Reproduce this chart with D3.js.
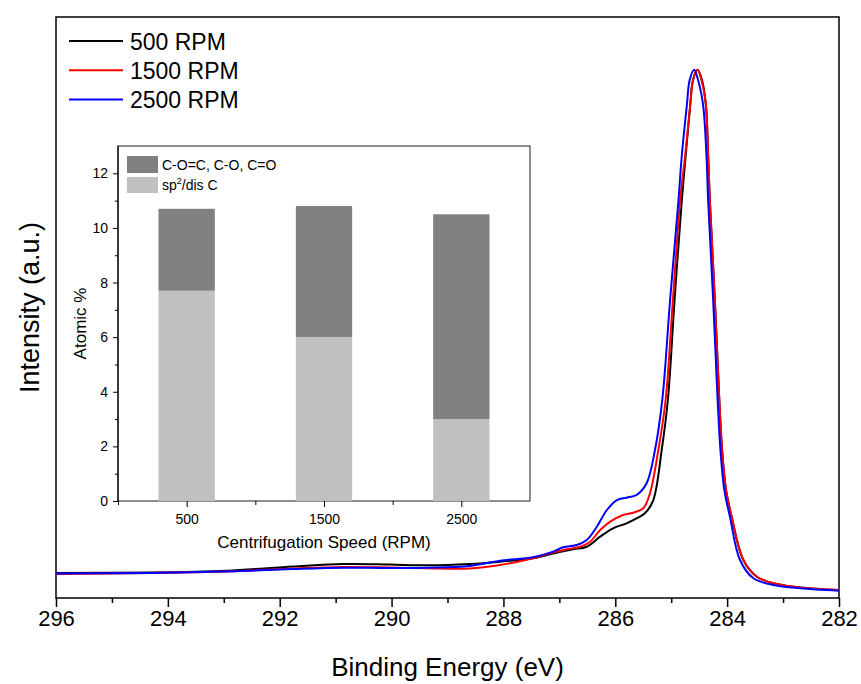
<!DOCTYPE html>
<html>
<head>
<meta charset="utf-8">
<script src="https://cdn.jsdelivr.net/npm/d3@7"></script>
<style>
body { margin: 0; background: #fff; }
text { font-family: Arial, "Liberation Sans", sans-serif; fill: #000; }
</style>
</head>
<body>
<svg width="861" height="684"></svg>
<script>
// C 1s spectra, binding energy (eV) and intensity (a.u., peak = 100)
var energy500 = [296.00, 294.32, 292.95, 291.76, 290.86, 290.03, 289.37, 288.60, 288.06, 287.47, 287.05, 286.75, 286.51, 286.27, 286.04, 285.80, 285.62, 285.47, 285.32, 285.17, 285.06, 284.94, 284.81, 284.74, 284.66, 284.61, 284.53, 284.45, 284.38, 284.34, 284.31, 284.22, 284.14, 284.09, 284.02, 283.92, 283.71, 283.47, 283.11, 282.70, 282.00];
var int500    = [4.73, 4.83, 5.17, 5.96, 6.44, 6.34, 6.19, 6.44, 6.87, 7.52, 8.58, 9.22, 9.71, 11.61, 13.20, 14.14, 15.09, 16.04, 18.55, 28.02, 37.49, 56.42, 75.35, 83.87, 93.34, 98.07, 100, 98.07, 93.34, 83.87, 75.35, 56.42, 37.49, 28.02, 20.45, 15.39, 7.19, 4.03, 2.65, 1.99, 1.51];

var energy1500 = [296.00, 294.32, 292.95, 291.76, 290.86, 290.03, 289.37, 288.60, 288.06, 287.47, 287.17, 286.87, 286.63, 286.45, 286.27, 286.09, 285.86, 285.68, 285.50, 285.38, 285.23, 285.10, 284.97, 284.84, 284.75, 284.66, 284.61, 284.53, 284.46, 284.38, 284.34, 284.31, 284.22, 284.14, 284.09, 284.02, 283.92, 283.71, 283.47, 283.11, 282.70, 282.00];
var int1500    = [4.54, 4.73, 5.02, 5.59, 5.87, 5.77, 5.62, 5.59, 6.25, 7.52, 8.46, 9.22, 9.71, 10.66, 12.87, 14.45, 15.71, 16.15, 16.98, 19.82, 28.02, 37.49, 56.42, 75.35, 83.87, 93.34, 98.07, 100, 98.07, 93.34, 83.87, 75.35, 56.42, 37.49, 28.02, 20.45, 15.39, 7.19, 4.03, 2.65, 1.99, 1.51];

var energy2500 = [296.00, 294.32, 292.95, 291.76, 290.86, 290.03, 289.37, 288.60, 288.06, 287.47, 287.11, 286.93, 286.69, 286.51, 286.33, 286.15, 285.97, 285.80, 285.62, 285.44, 285.29, 285.16, 285.02, 284.87, 284.81, 284.72, 284.67, 284.59, 284.52, 284.43, 284.37, 284.34, 284.25, 284.17, 284.12, 284.05, 283.95, 283.77, 283.53, 283.17, 282.70, 282.00];
var int2500    = [4.64, 4.73, 5.02, 5.49, 5.74, 5.68, 5.74, 6.06, 7.06, 7.71, 8.77, 9.60, 10.03, 10.98, 13.50, 16.66, 18.55, 18.99, 19.50, 21.72, 28.02, 37.49, 56.42, 75.35, 83.87, 93.34, 98.07, 100, 98.07, 93.34, 83.87, 75.35, 56.42, 37.49, 28.02, 20.45, 15.39, 7.19, 3.73, 2.46, 1.84, 1.38];

var seriesNames = ["500 RPM", "1500 RPM", "2500 RPM"];
var seriesColors = ["#000000", "#ff0000", "#0000ff"];

// inset: atomic % by centrifugation speed
var speeds = [500, 1500, 2500];
var spDis = [7.7, 6.0, 3.0];
var oxygenated = [3.0, 4.8, 7.5];
var insetKeys = ["sp2", "ox"];
var insetColors = { sp2: "#c0c0c0", ox: "#808080" };

var svg = d3.select("svg");

var margin = { left: 56, right: 839, top: 17, bottom: 598 };

var x = d3.scaleLinear().domain([296, 282]).range([margin.left, margin.right]);
var y = d3.scaleLinear().domain([0, 110]).range([margin.bottom, margin.top]);

// frame
svg.append("rect")
    .attr("x", margin.left).attr("y", margin.top)
    .attr("width", margin.right - margin.left)
    .attr("height", margin.bottom - margin.top)
    .attr("fill", "none").attr("stroke", "#000").attr("stroke-width", 1.5);

// x axis, major + minor ticks
var xMinor = d3.axisBottom(x).tickValues(d3.range(295, 282, -2)).tickSize(5).tickFormat("");
var xMajor = d3.axisBottom(x).tickValues(d3.range(296, 281, -2)).tickSize(9).tickPadding(3).tickFormat(d3.format("d"));

svg.append("g").attr("transform", "translate(0," + margin.bottom + ")").call(xMinor)
    .call(function(g) { g.select(".domain").remove(); })
    .selectAll("line").attr("stroke", "#000").attr("stroke-width", 1.5);
var gx = svg.append("g").attr("transform", "translate(0," + margin.bottom + ")").call(xMajor);
gx.select(".domain").remove();
gx.selectAll("line").attr("stroke", "#000").attr("stroke-width", 1.5);
gx.selectAll("text").attr("font-size", 22).attr("font-family", "Arial, 'Liberation Sans', sans-serif");

svg.append("text")
    .attr("x", (margin.left + margin.right) / 2).attr("y", 676)
    .attr("text-anchor", "middle").attr("font-size", 26)
    .text("Binding Energy (eV)");

svg.append("text")
    .attr("transform", "translate(39," + ((margin.top + margin.bottom) / 2) + ") rotate(-90)")
    .attr("text-anchor", "middle").attr("font-size", 27)
    .text("Intensity (a.u.)");

// spectra
var line = d3.line()
    .x(function(d) { return x(d[0]); })
    .y(function(d) { return y(d[1]); })
    .curve(d3.curveCatmullRom.alpha(0.5));

var spectra = [d3.zip(energy500, int500), d3.zip(energy1500, int1500), d3.zip(energy2500, int2500)];

svg.append("g").selectAll("path")
    .data(spectra)
    .enter().append("path")
    .attr("d", line)
    .attr("fill", "none")
    .attr("stroke", function(d, i) { return seriesColors[i]; })
    .attr("stroke-width", 2);

// main legend
var leg = svg.append("g").selectAll("g")
    .data(seriesNames)
    .enter().append("g")
    .attr("transform", function(d, i) { return "translate(69," + (41 + i * 29.3) + ")"; });
leg.append("line")
    .attr("x1", 0).attr("x2", 54).attr("y1", 0).attr("y2", 0)
    .attr("stroke", function(d, i) { return seriesColors[i]; })
    .attr("stroke-width", 2);
leg.append("text")
    .attr("x", 61).attr("y", 8.5)
    .attr("font-size", 23)
    .text(function(d) { return d; });

// ---- inset bar chart ----
var inset = { left: 118, right: 530, top: 146, bottom: 501 };

var ix = d3.scaleLinear().domain([0, 3000]).range([inset.left, inset.right]);
var iy = d3.scaleLinear().domain([0, 13]).range([inset.bottom, inset.top]);

svg.append("rect")
    .attr("x", inset.left).attr("y", inset.top)
    .attr("width", inset.right - inset.left)
    .attr("height", inset.bottom - inset.top)
    .attr("fill", "#fff").attr("stroke", "#444").attr("stroke-width", 1.2);

var rows = speeds.map(function(s, i) { return { speed: s, sp2: spDis[i], ox: oxygenated[i] }; });
var stacked = d3.stack().keys(insetKeys)(rows);
var barW = ix(410) - ix(0);

svg.append("g").selectAll("g")
    .data(stacked)
    .enter().append("g")
    .attr("fill", function(d) { return insetColors[d.key]; })
    .selectAll("rect")
    .data(function(d) { return d; })
    .enter().append("rect")
    .attr("x", function(d) { return ix(d.data.speed) - barW / 2; })
    .attr("width", barW)
    .attr("y", function(d) { return iy(d[1]); })
    .attr("height", function(d) { return iy(d[0]) - iy(d[1]); });

// inset axes
var iyMinor = d3.axisLeft(iy).tickValues(d3.range(1, 13, 2)).tickSize(3).tickFormat("");
var iyMajor = d3.axisLeft(iy).tickValues(d3.range(0, 13, 2)).tickSize(5).tickPadding(5);
svg.append("g").attr("transform", "translate(" + inset.left + ",0)").call(iyMinor)
    .call(function(g) { g.select(".domain").remove(); });
var giy = svg.append("g").attr("transform", "translate(" + inset.left + ",0)").call(iyMajor);
giy.select(".domain").remove();
giy.selectAll("text").attr("font-size", 14).attr("fill", "#222").attr("font-family", "Arial, 'Liberation Sans', sans-serif");

var ixMinor = d3.axisBottom(ix).tickValues([0, 1000, 2000]).tickSize(4).tickFormat("");
var ixMajor = d3.axisBottom(ix).tickValues(speeds).tickSize(6).tickPadding(7).tickFormat(d3.format("d"));
svg.append("g").attr("transform", "translate(0," + inset.bottom + ")").call(ixMinor)
    .call(function(g) { g.select(".domain").remove(); });
var gix = svg.append("g").attr("transform", "translate(0," + inset.bottom + ")").call(ixMajor);
gix.select(".domain").remove();
gix.selectAll("text").attr("font-size", 14).attr("fill", "#222").attr("font-family", "Arial, 'Liberation Sans', sans-serif");

svg.append("line")
    .attr("x1", inset.left).attr("x2", inset.left)
    .attr("y1", inset.top).attr("y2", inset.bottom)
    .attr("stroke", "#000").attr("stroke-width", 1.2);

svg.append("text")
    .attr("x", (inset.left + inset.right) / 2).attr("y", 548)
    .attr("text-anchor", "middle").attr("font-size", 17).attr("fill", "#222")
    .text("Centrifugation Speed (RPM)");

svg.append("text")
    .attr("transform", "translate(86," + ((inset.top + inset.bottom) / 2) + ") rotate(-90)")
    .attr("text-anchor", "middle").attr("font-size", 17).attr("fill", "#222")
    .text("Atomic %");

// inset legend
var ileg = svg.append("g").attr("transform", "translate(127,156)");
ileg.append("rect").attr("x", 0).attr("y", 0).attr("width", 31).attr("height", 17).attr("fill", insetColors.ox);
ileg.append("rect").attr("x", 0).attr("y", 21).attr("width", 31).attr("height", 16).attr("fill", insetColors.sp2);
ileg.append("text").attr("x", 35).attr("y", 14).attr("font-size", 14).attr("fill", "#222")
    .text("C-O=C, C-O, C=O");
var spText = ileg.append("text").attr("x", 35).attr("y", 34).attr("font-size", 14).attr("fill", "#222");
spText.append("tspan").text("sp");
spText.append("tspan").attr("dy", -6).attr("font-size", 9).text("2");
spText.append("tspan").attr("dy", 6).text("/dis C");
</script>
</body>
</html>
